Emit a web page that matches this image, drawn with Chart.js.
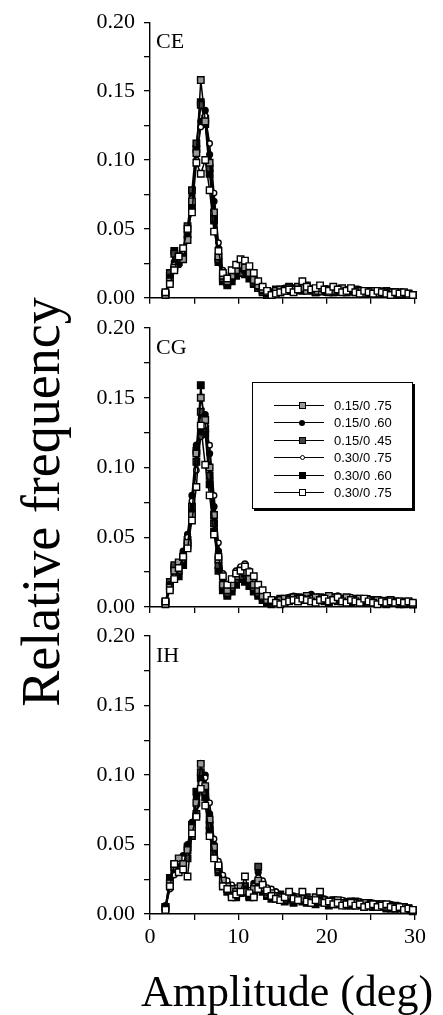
<!DOCTYPE html>
<html>
<head>
<meta charset="utf-8">
<script src="https://cdn.jsdelivr.net/npm/chart.js@4.4.0/dist/chart.umd.min.js"></script>
<style>
  body { margin: 0; background: #fff; }
  #wrap { position: relative; width: 443px; height: 1015px; overflow: hidden;
          font-family: "Liberation Serif", "Times New Roman", serif; color: #000; }
  canvas { position: absolute; left: 0; }
  .plab { position: absolute; left: 156px; font-size: 22px; line-height: 1; }
  #ylab { position: absolute; left: -209px; top: 472px; width: 500px; text-align: center;
          font-size: 54px; line-height: 60px; transform: rotate(-90deg); white-space: nowrap; }
  #xlab { position: absolute; left: 141px; top: 970px; font-size: 44px; line-height: 1; white-space: nowrap; }
  #legend { position: absolute; left: 252px; top: 382px; width: 159px; height: 125px;
            border: 1px solid #000; box-shadow: 2px 2px 0 #000; background: #fff;
            font-family: "Liberation Sans", Arial, sans-serif; font-size: 13px; }
  .row { position: absolute; left: 0; width: 159px; height: 16px; }
  .row .ln { position: absolute; left: 21px; width: 50px; top: 7px; border-top: 1.4px solid #000; }
  .row .mk { position: absolute; box-sizing: border-box; }
  .row .tx { position: absolute; left: 81px; top: 0; line-height: 16px; }
</style>
</head>
<body>
<div id="wrap">
  <canvas id="ce" width="443" height="320" style="top:0px"></canvas>
  <canvas id="cg" width="443" height="330" style="top:300px"></canvas>
  <canvas id="ih" width="443" height="360" style="top:610px"></canvas>
  <div class="plab" style="top:30px">CE</div>
  <div class="plab" style="top:336px">CG</div>
  <div class="plab" style="top:644px">IH</div>
  <div id="legend"></div>
  <div id="ylab">Relative frequency</div>
  <div id="xlab">Amplitude (deg)</div>
</div>
<script>
// bin centres (deg)
const amplitude = [
  1.75, 2.25, 2.75, 3.25, 3.75, 4.25, 4.75, 5.25, 5.75, 6.25,
  6.75, 7.25, 7.75, 8.25, 8.75, 9.25, 9.75, 10.25, 10.75, 11.25,
  11.75, 12.25, 12.75, 13.25, 13.75, 14.25, 14.75, 15.25, 15.75, 16.25,
  16.75, 17.25, 17.75, 18.25, 18.75, 19.25, 19.75, 20.25, 20.75, 21.25,
  21.75, 22.25, 22.75, 23.25, 23.75, 24.25, 24.75, 25.25, 25.75, 26.25,
  26.75, 27.25, 27.75, 28.25, 28.75, 29.25, 29.75
];

const seriesNames = ['0.15/0 .75', '0.15/0 .60', '0.15/0 .45', '0.30/0 .75', '0.30/0 .60', '0.30/0 .75'];

const yTicks = [0, 0.05, 0.10, 0.15, 0.20];
const xTicks = [0, 10, 20, 30];

// CE panel
const ce1 = [0.002,0.012,0.022,0.030,0.028,0.042,0.070,0.105,0.158,0.128,
             0.098,0.062,0.030,0.016,0.012,0.016,0.020,0.024,0.022,0.018,
             0.013,0.009,0.006,0.004,0.003,0.005,0.006,0.005,0.007,0.006,
             0.008,0.007,0.005,0.006,0.005,0.007,0.006,0.004,0.005,0.006,
             0.007,0.005,0.006,0.004,0.005,0.003,0.004,0.005,0.003,0.004,
             0.003,0.004,0.003,0.004,0.003,0.002,0.002];
const ce2 = [0.004,0.015,0.026,0.024,0.032,0.048,0.074,0.098,0.128,0.136,
             0.104,0.070,0.036,0.018,0.010,0.013,0.017,0.021,0.019,0.016,
             0.012,0.008,0.005,0.003,0.004,0.004,0.006,0.007,0.005,0.006,
             0.007,0.009,0.006,0.005,0.006,0.005,0.004,0.006,0.005,0.004,
             0.005,0.006,0.005,0.004,0.006,0.004,0.003,0.004,0.005,0.003,
             0.004,0.003,0.002,0.003,0.004,0.003,0.002];
const ce3 = [0.003,0.018,0.032,0.026,0.034,0.052,0.078,0.112,0.140,0.130,
             0.094,0.058,0.028,0.014,0.011,0.015,0.019,0.018,0.021,0.017,
             0.011,0.007,0.004,0.002,0.004,0.006,0.005,0.006,0.008,0.005,
             0.006,0.008,0.009,0.006,0.004,0.005,0.006,0.005,0.004,0.005,
             0.006,0.004,0.005,0.006,0.004,0.005,0.003,0.004,0.003,0.004,
             0.005,0.003,0.004,0.002,0.003,0.003,0.002];
const ce4 = [0.002,0.013,0.024,0.030,0.034,0.050,0.072,0.100,0.124,0.132,
             0.112,0.076,0.040,0.020,0.013,0.016,0.022,0.026,0.025,0.020,
             0.014,0.010,0.006,0.004,0.003,0.004,0.005,0.006,0.007,0.006,
             0.005,0.007,0.006,0.005,0.006,0.004,0.005,0.006,0.007,0.005,
             0.004,0.006,0.007,0.005,0.004,0.005,0.004,0.003,0.004,0.005,
             0.004,0.003,0.004,0.003,0.004,0.003,0.002];
const ce5 = [0.003,0.016,0.034,0.028,0.030,0.046,0.066,0.108,0.142,0.126,
             0.090,0.056,0.026,0.012,0.009,0.012,0.016,0.019,0.017,0.014,
             0.010,0.007,0.005,0.003,0.002,0.005,0.004,0.006,0.005,0.007,
             0.006,0.005,0.007,0.006,0.004,0.006,0.005,0.006,0.004,0.006,
             0.005,0.004,0.006,0.005,0.004,0.003,0.005,0.004,0.003,0.004,
             0.003,0.004,0.003,0.003,0.002,0.003,0.002];
const ce6 = [0.004,0.010,0.020,0.030,0.036,0.050,0.062,0.098,0.090,0.100,
             0.078,0.048,0.034,0.018,0.014,0.020,0.024,0.028,0.027,0.023,
             0.018,0.012,0.008,0.005,0.002,0.003,0.004,0.005,0.006,0.004,
             0.006,0.012,0.008,0.006,0.007,0.009,0.006,0.005,0.008,0.006,
             0.004,0.005,0.007,0.004,0.003,0.005,0.004,0.003,0.005,0.004,
             0.003,0.002,0.004,0.003,0.004,0.003,0.002];

// CG panel
const cg1 = [0.002,0.014,0.026,0.032,0.036,0.046,0.066,0.110,0.150,0.134,
             0.100,0.066,0.034,0.016,0.012,0.016,0.022,0.026,0.025,0.020,
             0.016,0.012,0.008,0.005,0.004,0.003,0.005,0.006,0.005,0.007,
             0.006,0.005,0.008,0.006,0.007,0.005,0.006,0.008,0.005,0.006,
             0.004,0.007,0.005,0.004,0.006,0.005,0.003,0.004,0.005,0.003,
             0.004,0.005,0.003,0.004,0.003,0.003,0.002];
const cg2 = [0.003,0.016,0.024,0.030,0.040,0.052,0.080,0.116,0.128,0.138,
             0.110,0.072,0.040,0.020,0.014,0.018,0.024,0.028,0.030,0.024,
             0.018,0.013,0.009,0.006,0.004,0.005,0.004,0.006,0.007,0.005,
             0.006,0.007,0.006,0.009,0.006,0.005,0.007,0.006,0.005,0.008,
             0.006,0.005,0.004,0.006,0.005,0.004,0.006,0.004,0.003,0.005,
             0.004,0.003,0.004,0.003,0.004,0.002,0.002];
const cg3 = [0.004,0.018,0.030,0.026,0.034,0.048,0.072,0.104,0.140,0.128,
             0.094,0.060,0.030,0.015,0.010,0.014,0.020,0.022,0.024,0.019,
             0.014,0.010,0.007,0.004,0.003,0.004,0.006,0.005,0.006,0.005,
             0.007,0.006,0.007,0.005,0.006,0.007,0.005,0.006,0.007,0.005,
             0.006,0.004,0.005,0.006,0.004,0.005,0.004,0.005,0.003,0.004,
             0.003,0.004,0.003,0.002,0.003,0.004,0.002];
const cg4 = [0.002,0.012,0.022,0.028,0.034,0.050,0.076,0.098,0.122,0.130,
             0.116,0.080,0.046,0.024,0.016,0.020,0.026,0.029,0.031,0.026,
             0.020,0.015,0.010,0.007,0.005,0.004,0.006,0.005,0.006,0.008,
             0.007,0.006,0.005,0.007,0.006,0.005,0.006,0.005,0.007,0.006,
             0.005,0.006,0.007,0.005,0.004,0.005,0.006,0.004,0.003,0.004,
             0.005,0.004,0.003,0.004,0.003,0.003,0.002];
const cg5 = [0.003,0.015,0.028,0.022,0.030,0.044,0.068,0.112,0.159,0.124,
             0.088,0.054,0.026,0.012,0.008,0.011,0.016,0.020,0.018,0.015,
             0.011,0.008,0.005,0.003,0.002,0.004,0.005,0.004,0.006,0.005,
             0.004,0.006,0.005,0.004,0.006,0.005,0.004,0.003,0.005,0.004,
             0.006,0.004,0.003,0.005,0.004,0.003,0.004,0.003,0.004,0.003,
             0.002,0.003,0.004,0.003,0.002,0.003,0.002];
const cg6 = [0.004,0.012,0.020,0.028,0.036,0.042,0.062,0.086,0.130,0.102,
             0.080,0.052,0.036,0.022,0.016,0.020,0.024,0.026,0.029,0.025,
             0.022,0.016,0.012,0.008,0.005,0.003,0.002,0.003,0.004,0.005,
             0.004,0.006,0.005,0.004,0.003,0.005,0.006,0.004,0.005,0.007,
             0.004,0.003,0.005,0.004,0.003,0.006,0.004,0.003,0.002,0.004,
             0.003,0.004,0.003,0.004,0.003,0.004,0.003];

// IH panel
const ih1 = [0.004,0.022,0.034,0.040,0.036,0.046,0.062,0.080,0.108,0.092,
             0.068,0.048,0.034,0.024,0.020,0.018,0.016,0.020,0.016,0.014,
             0.018,0.024,0.019,0.016,0.015,0.013,0.012,0.011,0.013,0.010,
             0.012,0.011,0.009,0.010,0.012,0.009,0.010,0.008,0.009,0.010,
             0.008,0.007,0.009,0.008,0.007,0.008,0.006,0.007,0.006,0.007,
             0.005,0.006,0.005,0.004,0.005,0.004,0.003];
const ih2 = [0.006,0.024,0.032,0.036,0.042,0.050,0.066,0.084,0.096,0.100,
             0.072,0.050,0.036,0.026,0.022,0.020,0.018,0.016,0.018,0.015,
             0.022,0.030,0.022,0.018,0.017,0.016,0.014,0.012,0.011,0.013,
             0.010,0.011,0.010,0.009,0.011,0.010,0.008,0.009,0.010,0.007,
             0.008,0.009,0.007,0.008,0.006,0.007,0.008,0.006,0.007,0.005,
             0.006,0.007,0.005,0.004,0.005,0.004,0.003];
const ih3 = [0.005,0.020,0.030,0.034,0.038,0.040,0.056,0.072,0.102,0.088,
             0.064,0.044,0.032,0.022,0.018,0.016,0.014,0.018,0.020,0.013,
             0.016,0.034,0.020,0.014,0.013,0.012,0.014,0.010,0.012,0.009,
             0.011,0.010,0.012,0.008,0.009,0.011,0.009,0.008,0.010,0.009,
             0.007,0.008,0.006,0.009,0.007,0.006,0.008,0.005,0.007,0.006,
             0.005,0.004,0.006,0.005,0.004,0.003,0.003];
const ih4 = [0.004,0.018,0.028,0.038,0.040,0.046,0.060,0.078,0.094,0.098,
             0.080,0.054,0.038,0.028,0.024,0.021,0.019,0.017,0.015,0.017,
             0.020,0.026,0.024,0.019,0.018,0.016,0.013,0.012,0.013,0.011,
             0.010,0.012,0.011,0.010,0.009,0.010,0.011,0.009,0.008,0.009,
             0.010,0.008,0.007,0.008,0.009,0.007,0.006,0.008,0.007,0.006,
             0.005,0.006,0.005,0.006,0.004,0.004,0.003];
const ih5 = [0.005,0.026,0.036,0.032,0.034,0.048,0.064,0.088,0.098,0.084,
             0.060,0.042,0.030,0.020,0.016,0.014,0.012,0.015,0.017,0.012,
             0.014,0.020,0.016,0.013,0.011,0.012,0.010,0.009,0.011,0.008,
             0.010,0.009,0.008,0.010,0.007,0.009,0.008,0.006,0.008,0.007,
             0.009,0.006,0.007,0.006,0.008,0.005,0.006,0.007,0.005,0.006,
             0.004,0.005,0.004,0.005,0.003,0.004,0.002];
const ih6 = [0.003,0.020,0.036,0.030,0.032,0.027,0.058,0.070,0.090,0.078,
             0.056,0.040,0.035,0.020,0.018,0.012,0.014,0.016,0.027,0.015,
             0.012,0.018,0.021,0.017,0.013,0.011,0.010,0.012,0.016,0.011,
             0.010,0.016,0.009,0.008,0.010,0.016,0.008,0.009,0.007,0.008,
             0.006,0.007,0.008,0.006,0.007,0.005,0.006,0.007,0.005,0.006,
             0.007,0.005,0.004,0.005,0.003,0.004,0.003];

// marker look per series (same order as seriesNames)
const markers = [
  { pointStyle: 'rect',   radius: 4.6, fill: '#9a9a9a', order: 1 },
  { pointStyle: 'circle', radius: 2.9, fill: '#000',    order: 3 },
  { pointStyle: 'rect',   radius: 4.6, fill: '#444',    order: 4 },
  { pointStyle: 'circle', radius: 2.7, fill: '#fff',    order: 2 },
  { pointStyle: 'rect',   radius: 4.6, fill: '#000',    order: 5 },
  { pointStyle: 'rect',   radius: 4.6, fill: '#fff',    order: 0 }
];

const TICK_FONT = { family: '"Liberation Serif", "Times New Roman", serif', size: 22 };

function makePanel(id, seriesList, padTop, xHeight, showX) {
  const datasets = seriesList.map((vals, s) => ({
    label: seriesNames[s],
    data: vals.map((v, i) => ({ x: amplitude[i], y: v })),
    borderColor: '#000',
    borderWidth: 1.5,
    pointStyle: markers[s].pointStyle,
    pointRadius: markers[s].radius,
    pointBackgroundColor: markers[s].fill,
    pointBorderColor: '#000',
    pointBorderWidth: 1.4,
    order: markers[s].order,
    tension: 0,
    clip: false
  }));

  return new Chart(document.getElementById(id), {
    type: 'line',
    data: { datasets },
    options: {
      responsive: false,
      animation: false,
      layout: { padding: { top: padTop, right: 28, bottom: 0, left: 0 } },
      plugins: { legend: { display: false }, tooltip: { enabled: false } },
      scales: {
        x: {
          type: 'linear', min: 0, max: 30,
          border: { display: true, color: '#000', width: 1.4 },
          grid: { drawOnChartArea: false, drawTicks: true, tickLength: 6, color: '#000', lineWidth: 1.3 },
          ticks: {
            stepSize: 5, autoSkip: false, maxRotation: 0, padding: 4, color: '#000', font: TICK_FONT,
            callback: (v) => (showX && xTicks.includes(v)) ? String(v) : ''
          },
          afterFit: (scale) => { scale.height = xHeight; }
        },
        y: {
          min: 0, max: 0.2,
          border: { display: true, color: '#000', width: 1.4 },
          grid: { drawOnChartArea: false, drawTicks: true, tickLength: 6, color: '#000', lineWidth: 1.3 },
          ticks: {
            stepSize: 0.025, autoSkip: false, padding: 9, color: '#000', font: TICK_FONT,
            callback: (v) => yTicks.some(t => Math.abs(t - v) < 1e-6) ? v.toFixed(2) : ''
          },
          afterFit: (scale) => { scale.width = 150; }
        }
      }
    }
  });
}

makePanel('ce', [ce1, ce2, ce3, ce4, ce5, ce6], 22, 21, false);
makePanel('cg', [cg1, cg2, cg3, cg4, cg5, cg6], 28, 23, false);
makePanel('ih', [ih1, ih2, ih3, ih4, ih5, ih6], 26, 56, true);

// legend box inside the CG panel
const legend = document.getElementById('legend');
const mkCss = [
  'width:7px;height:7px;border:1.3px solid #000;background:#9a9a9a;',
  'width:6px;height:6px;border-radius:50%;background:#000;',
  'width:7px;height:7px;border:1.3px solid #000;background:#444;',
  'width:5px;height:5px;border-radius:50%;border:1px solid #000;background:#fff;',
  'width:7px;height:7px;background:#000;',
  'width:7px;height:7px;border:1.3px solid #000;background:#fff;'
];
seriesNames.forEach((name, k) => {
  const row = document.createElement('div');
  row.className = 'row';
  row.style.top = (15 + k * 17.4) + 'px';
  const m = mkCss[k];
  const w = parseFloat(m.match(/width:(\d+)/)[1]);
  row.innerHTML = '<div class="ln"></div>' +
    '<div class="mk" style="' + m + 'left:' + (49 - w / 2) + 'px;top:' + (7.5 - w / 2) + 'px;"></div>' +
    '<div class="tx">' + name + '</div>';
  legend.appendChild(row);
});
</script>
</body>
</html>
